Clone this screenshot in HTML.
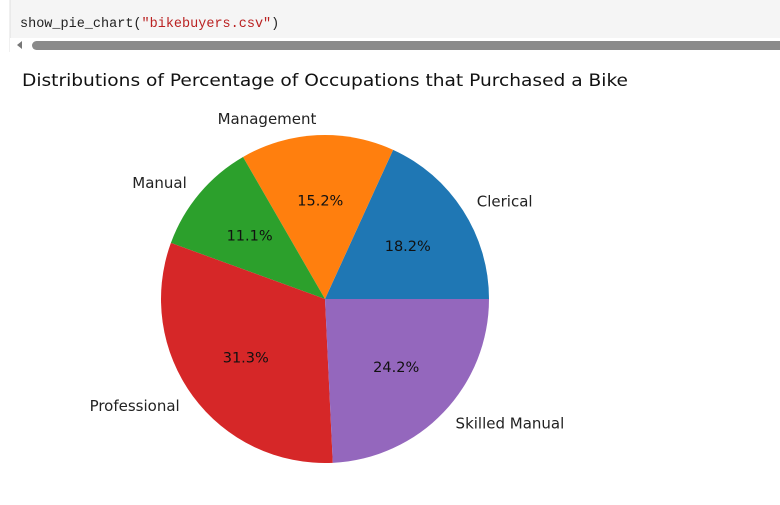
<!DOCTYPE html>
<html><head><meta charset="utf-8"><style>
html,body{margin:0;padding:0;background:#fff;width:780px;height:505px;overflow:hidden}
svg text{font-family:"DejaVu Sans","Liberation Sans",sans-serif}
</style></head><body>
<svg width="780" height="505" viewBox="0 0 780 505">
  <rect x="10" y="0" width="770" height="38" fill="#f5f5f5"/>
  <line x1="10" y1="0" x2="10" y2="52" stroke="#e0e0e0"/>
  <text x="20" y="27" font-family="Liberation Mono, monospace" style="font-family:'Liberation Mono',monospace" font-size="13.5" fill="#222">show_pie_chart(<tspan fill="#ba2121">"bikebuyers.csv"</tspan>)</text>
  <rect x="10" y="38" width="770" height="14" fill="#fff"/>
  <path d="M17 45 L22 41 L22 49 Z" fill="#777"/>
  <rect x="32" y="41" width="760" height="9" rx="4.5" fill="#8a8a8a"/>
  <text x="22" y="86" font-size="17" fill="#111" textLength="606" lengthAdjust="spacingAndGlyphs">Distributions of Percentage of Occupations that Purchased a Bike</text>
  <g id="pie"></g>
</svg>
<script>
const categories = ["Clerical","Management","Manual","Professional","Skilled Manual"];
const values = [18, 15, 11, 31, 24];
const colors = ["#1f77b4","#ff7f0e","#2ca02c","#d62728","#9467bd"];
const cx = 325, cy = 299, R = 164;
const g = document.getElementById('pie');
const NS = 'http://www.w3.org/2000/svg';
const total = values.reduce((a,b)=>a+b,0);
let a0 = 0;
values.forEach((v,i)=>{
  const frac = v/total;
  const a1 = a0 + frac*2*Math.PI;
  const x0 = cx + R*Math.cos(a0), y0 = cy - R*Math.sin(a0);
  const x1 = cx + R*Math.cos(a1), y1 = cy - R*Math.sin(a1);
  const large = frac > 0.5 ? 1 : 0;
  const p = document.createElementNS(NS,'path');
  p.setAttribute('d',`M${cx},${cy} L${x0},${y0} A${R},${R} 0 ${large} 0 ${x1},${y1} Z`);
  p.setAttribute('fill',colors[i]);
  
  
  g.appendChild(p);
  const am = (a0+a1)/2;
  const lx = cx + 1.1*R*Math.cos(am), ly = cy - 1.1*R*Math.sin(am);
  const t = document.createElementNS(NS,'text');
  t.setAttribute('x',lx); t.setAttribute('y',ly+5);
  t.setAttribute('font-size','15');
  t.setAttribute('fill','#222');
  t.setAttribute('text-anchor', Math.cos(am) > 0 ? 'start' : 'end');
  t.textContent = categories[i];
  
  
  g.appendChild(t);
  const px = cx + 0.6*R*Math.cos(am), py = cy - 0.6*R*Math.sin(am);
  const pt = document.createElementNS(NS,'text');
  pt.setAttribute('x',px); pt.setAttribute('y',py+5);
  pt.setAttribute('font-size','14.5');
  pt.setAttribute('fill','#111');
  pt.setAttribute('text-anchor','middle');
  pt.textContent = (frac*100).toFixed(1) + '%';
  
  
  g.appendChild(pt);
  a0 = a1;
});
</script>
</body></html>
